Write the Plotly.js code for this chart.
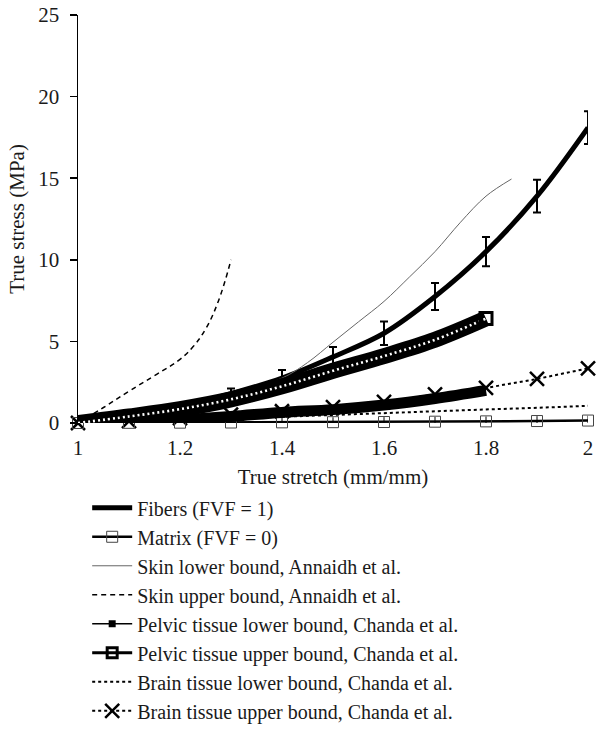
<!DOCTYPE html>
<html>
<head>
<meta charset="utf-8">
<script src="https://cdn.plot.ly/plotly-3.0.1.min.js"></script>
<style>html,body{margin:0;padding:0;background:#fff;}#chart{width:596px;height:740px;}</style>
</head>
<body>
<div id="chart"></div>
<script>
// ---- data ----
const stretch = [1.0, 1.1, 1.2, 1.3, 1.4, 1.5, 1.6, 1.7, 1.8, 1.9, 2.0];
const fibers = [0, 0.45, 1.0, 1.8, 2.75, 4.05, 5.5, 7.75, 10.5, 13.9, 18.1];
const fibersErr = [0.05, 0.1, 0.2, 0.32, 0.5, 0.6, 0.72, 0.83, 0.9, 1.0, 1.0];
const matrix = [0, 0.01, 0.02, 0.03, 0.04, 0.05, 0.06, 0.08, 0.1, 0.12, 0.15];
const matrixErr = [0.3, 0.3, 0.3, 0.3, 0.3, 0.3, 0.3, 0.3, 0.3, 0.3, 0.3];

const skinLowX = [1.0, 1.1, 1.2, 1.3, 1.4, 1.45, 1.5, 1.55, 1.6, 1.65, 1.7, 1.75, 1.8, 1.85];
const skinLow = [0, 0.45, 1.0, 1.8, 2.75, 3.7, 4.95, 6.2, 7.45, 8.95, 10.5, 12.3, 13.9, 14.95];
const skinUpX = [1.0, 1.05, 1.1, 1.15, 1.2, 1.225, 1.25, 1.275, 1.3];
const skinUp = [0, 0.95, 1.95, 2.9, 3.9, 4.65, 5.75, 7.45, 10.0];

const pelvicX = [1.0, 1.1, 1.2, 1.3, 1.4, 1.5, 1.6, 1.7, 1.8];
const pelvicLow = [0, 0.08, 0.2, 0.4, 0.65, 0.82, 1.1, 1.5, 2.0];
const pelvicUp = [0, 0.4, 0.85, 1.45, 2.25, 3.2, 4.1, 5.1, 6.4];

const brainLow = [0, 0.08, 0.17, 0.27, 0.38, 0.5, 0.6, 0.72, 0.83, 0.93, 1.05];
const brainUp = [0, 0.12, 0.3, 0.52, 0.72, 0.97, 1.3, 1.75, 2.15, 2.7, 3.35];

const names = [
  'Fibers (FVF = 1)',
  'Matrix (FVF = 0)',
  'Skin lower bound, Annaidh et al.',
  'Skin upper bound, Annaidh et al.',
  'Pelvic tissue lower bound, Chanda et al.',
  'Pelvic tissue upper bound, Chanda et al.',
  'Brain tissue lower bound, Chanda et al.',
  'Brain tissue upper bound, Chanda et al.'
];
const xTicks = [1, 1.2, 1.4, 1.6, 1.8, 2];
const xTickText = ['1', '1.2', '1.4', '1.6', '1.8', '2'];
const yTicks = [0, 5, 10, 15, 20, 25];

// ---- traces ----
const last = a => [a[a.length - 1]];
const base = {type: 'scatter', cliponaxis: false, hoverinfo: 'skip'};
const traces = [
  Object.assign({}, base, {x: stretch, y: brainLow, mode: 'lines', name: names[6], legendrank: 7,
    line: {color: '#000', width: 2, dash: 'dot'}}),
  Object.assign({}, base, {x: stretch, y: brainUp, mode: 'lines+markers', name: names[7], legendrank: 8,
    line: {color: '#000', width: 2, dash: 'dot'},
    marker: {symbol: 'x-thin-open', size: 14, color: '#000', line: {color: '#000', width: 2.5}}}),
  Object.assign({}, base, {x: stretch, y: matrix, mode: 'lines+markers', name: names[1], legendrank: 2,
    line: {color: '#000', width: 2.5},
    marker: {symbol: 'square-open', size: 11, color: '#444', line: {color: '#444', width: 1}},
    error_y: {type: 'data', array: matrixErr, visible: true, color: '#000', thickness: 1, width: 0}}),
  Object.assign({}, base, {x: stretch, y: fibers, mode: 'lines', name: names[0], legendrank: 1,
    line: {color: '#000', width: 5, shape: 'spline'},
    error_y: {type: 'data', array: fibersErr, visible: true, color: '#000', thickness: 2, width: 4}}),
  Object.assign({}, base, {x: skinLowX, y: skinLow, mode: 'lines', name: names[2], legendrank: 3,
    line: {color: '#666', width: 1, shape: 'spline'}}),
  Object.assign({}, base, {x: skinUpX, y: skinUp, mode: 'lines', name: names[3], legendrank: 4,
    line: {color: '#000', width: 1.5, dash: '5px,4px', shape: 'spline', smoothing: 1.2}}),
  // pelvic lower band
  Object.assign({}, base, {x: pelvicX, y: pelvicLow, mode: 'lines', showlegend: false,
    line: {color: '#000', width: 11, shape: 'spline'}}),
  Object.assign({}, base, {x: [null], y: [null], mode: 'lines+markers', name: names[4], legendrank: 5,
    line: {color: '#000', width: 1.5},
    marker: {symbol: 'square', size: 7, color: '#000'}}),
  // pelvic upper band
  Object.assign({}, base, {x: pelvicX, y: pelvicUp, mode: 'lines', showlegend: false,
    line: {color: '#000', width: 16, shape: 'spline'}}),
  Object.assign({}, base, {x: pelvicX, y: pelvicUp, mode: 'lines', showlegend: false,
    line: {color: '#fff', width: 2.6, dash: '2px,3px', shape: 'spline'}}),
  Object.assign({}, base, {x: last(pelvicX), y: last(pelvicUp), mode: 'markers', showlegend: false,
    marker: {symbol: 'square-open', size: 12, color: '#000', line: {color: '#000', width: 3}}}),
  Object.assign({}, base, {x: [null], y: [null], mode: 'lines+markers', name: names[5], legendrank: 6,
    line: {color: '#000', width: 3},
    marker: {symbol: 'square-open', size: 10, color: '#000', line: {color: '#000', width: 3}}})
];

const fam = 'Liberation Serif, DejaVu Serif, serif';
const font = {family: fam, color: '#1a1a1a', size: 21};
const legendFont = {family: fam, color: '#1a1a1a', size: 20};

const layout = {
  width: 596, height: 740,
  margin: {l: 78, r: 8, t: 15, b: 317, autoexpand: false},
  paper_bgcolor: '#fff', plot_bgcolor: '#fff',
  font: font,
  showlegend: true,
  xaxis: {
    range: [1, 2], tickvals: xTicks, ticktext: xTickText,
    showgrid: false, zeroline: false, showline: false, ticks: '',
    ticklabelstandoff: 10,
    title: {text: 'True stretch (mm/mm)', font: font, standoff: 10}
  },
  yaxis: {
    range: [0, 25], tickvals: yTicks,
    showgrid: false, zeroline: false, showline: true, linecolor: '#000', linewidth: 1.5,
    ticks: 'outside', ticklen: 7, tickwidth: 1.5, tickcolor: '#000',
    ticklabelstandoff: 6,
    title: {text: 'True stress (MPa)', font: font, standoff: 8}
  },
  legend: {
    x: 0.018, y: -0.160, xanchor: 'left', yanchor: 'top',
    font: legendFont, bgcolor: 'rgba(0,0,0,0)', itemwidth: 40,
    traceorder: 'normal'
  }
};

Plotly.newPlot('chart', traces, layout, {displayModeBar: false, staticPlot: true});
</script>
</body>
</html>
